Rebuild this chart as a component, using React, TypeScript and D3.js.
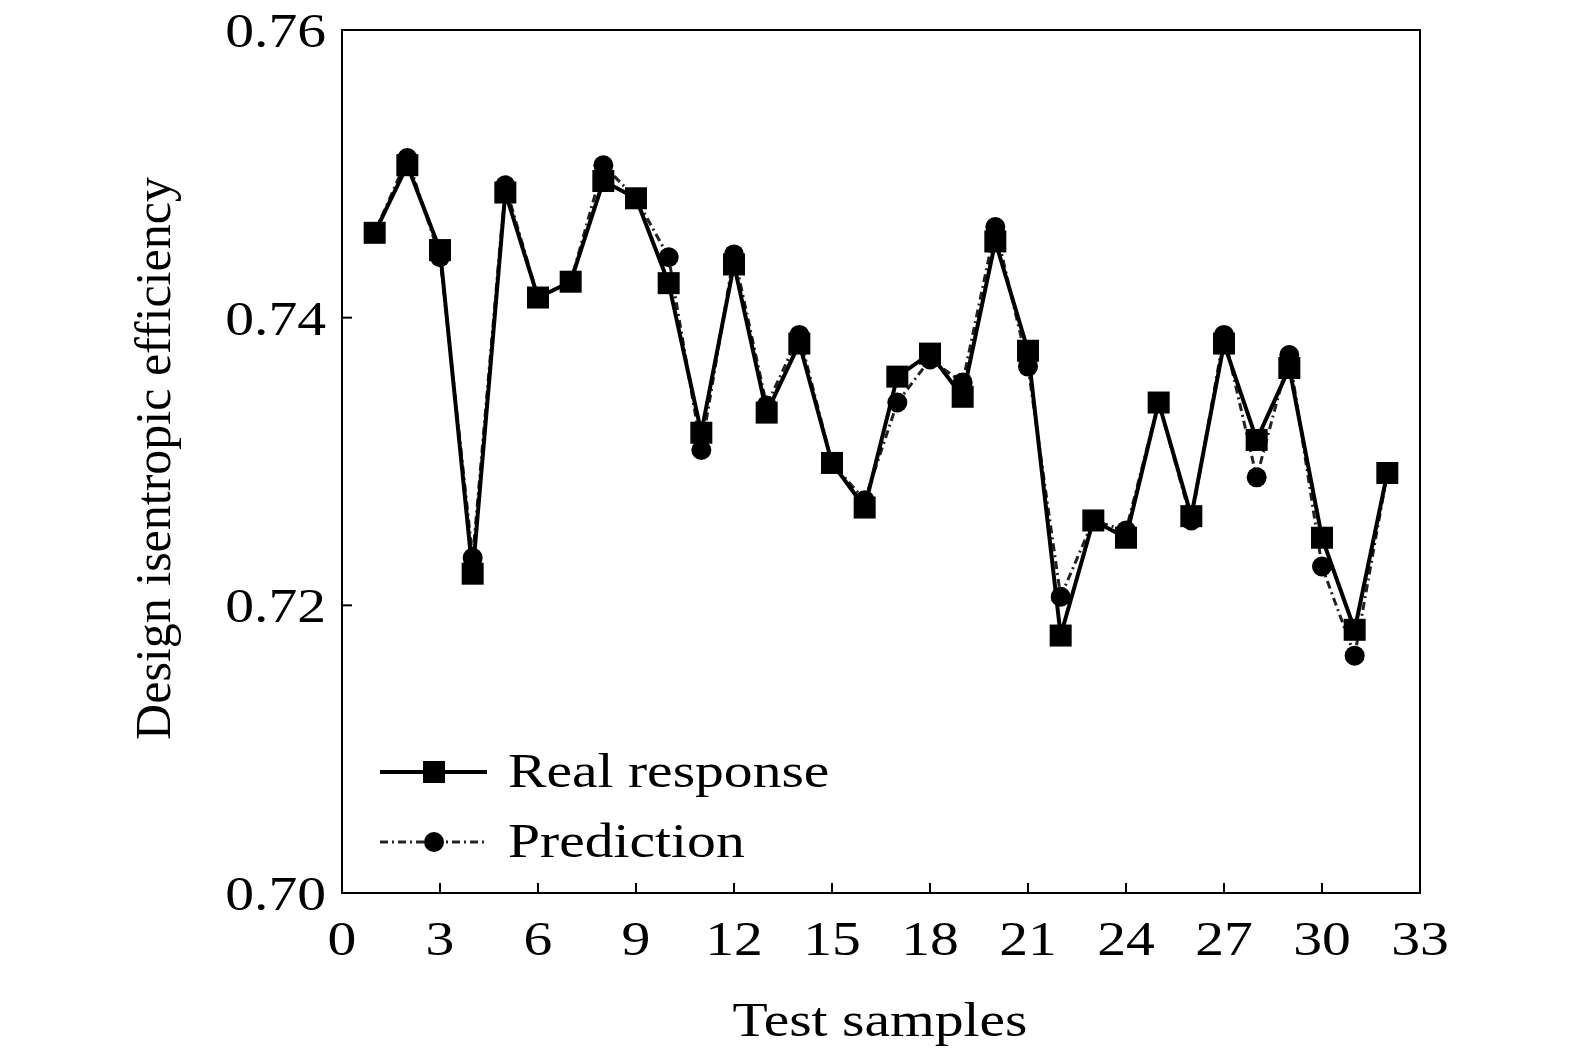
import React from 'react';
import * as d3 from 'd3';

const samples = d3.range(1, 33);
const realResponse = [0.7459, 0.7506, 0.7447, 0.7222, 0.7487, 0.7414, 0.7425, 0.7495, 0.7483, 0.7424, 0.7320, 0.7437, 0.7334, 0.7382, 0.7299, 0.7268, 0.7359, 0.7375, 0.7345, 0.7453, 0.7377, 0.7179, 0.7259, 0.7247, 0.7341, 0.7262, 0.7382, 0.7315, 0.7365, 0.7247, 0.7183, 0.7292];
const prediction = [0.7459, 0.7511, 0.7442, 0.7233, 0.7492, 0.7414, 0.7425, 0.7506, 0.7483, 0.7442, 0.7308, 0.7444, 0.7339, 0.7388, 0.7299, 0.7273, 0.7341, 0.7371, 0.7355, 0.7463, 0.7366, 0.7206, 0.7259, 0.7252, 0.7341, 0.7259, 0.7388, 0.7289, 0.7374, 0.7227, 0.7165, 0.7292];
const xTicks = d3.range(0, 34, 3);
const yTicks = [0.70, 0.72, 0.74, 0.76];

// the reference is stretched a bit horizontally
const sx = 1.2;

export default function App() {
  const W = 1575, H = 1062;
  const m = { left: 342, right: 1420, top: 30, bottom: 893 };
  const x = d3.scaleLinear().domain([0, 33]).range([m.left, m.right]);
  const y = d3.scaleLinear().domain([0.70, 0.76]).range([m.bottom, m.top]);
  const line = d3.line<number>().x((_, i) => x(samples[i])).y(d => y(d));
  const font = '"Liberation Serif", "Times New Roman", serif';
  const T = (px: number, py: number) => `translate(${px},${py}) scale(${sx},1)`;
  return (
    <svg width={W} height={H} style={{ position: 'absolute', left: 0, top: 0, background: '#fff' }} fontFamily={font}>
      <rect x={m.left} y={m.top} width={m.right - m.left} height={m.bottom - m.top} fill="none" stroke="#000" strokeWidth={2} />
      {xTicks.map(t => (
        <g key={t}>
          <line x1={x(t)} x2={x(t)} y1={m.bottom} y2={m.bottom - 10} stroke="#000" strokeWidth={2} />
          <text transform={T(x(t), m.bottom + 62)} fontSize={48} textAnchor="middle">{t}</text>
        </g>
      ))}
      {yTicks.map(t => (
        <g key={t}>
          <line x1={m.left} x2={m.left + 10} y1={y(t)} y2={y(t)} stroke="#000" strokeWidth={2} />
          <text transform={T(m.left - 16, y(t) + 17)} fontSize={48} textAnchor="end">{t.toFixed(2)}</text>
        </g>
      ))}
      <text transform={T(880, 1036)} fontSize={48} textAnchor="middle">Test samples</text>
      <text transform={`translate(170,${(m.top + m.bottom) / 2 - 3}) rotate(-90)`} fontSize={50} textAnchor="middle">Design isentropic efficiency</text>

      <path d={line(prediction) ?? ''} fill="none" stroke="#222" strokeWidth={3} strokeDasharray="8 4 2 4" />
      {prediction.map((v, i) => <circle key={i} cx={x(samples[i])} cy={y(v)} r={10} fill="#000" />)}
      <path d={line(realResponse) ?? ''} fill="none" stroke="#000" strokeWidth={4} />
      {realResponse.map((v, i) => <rect key={i} x={x(samples[i]) - 11} y={y(v) - 11} width={22} height={22} fill="#000" />)}

      <line x1={380} x2={487} y1={772} y2={772} stroke="#000" strokeWidth={4} />
      <rect x={423} y={761} width={22} height={22} fill="#000" />
      <text transform={T(508, 787)} fontSize={48}>Real response</text>
      <line x1={380} x2={487} y1={842} y2={842} stroke="#222" strokeWidth={3} strokeDasharray="8 4 2 4" />
      <circle cx={434} cy={842} r={10} fill="#000" />
      <text transform={T(508, 857)} fontSize={48}>Prediction</text>
    </svg>
  );
}
